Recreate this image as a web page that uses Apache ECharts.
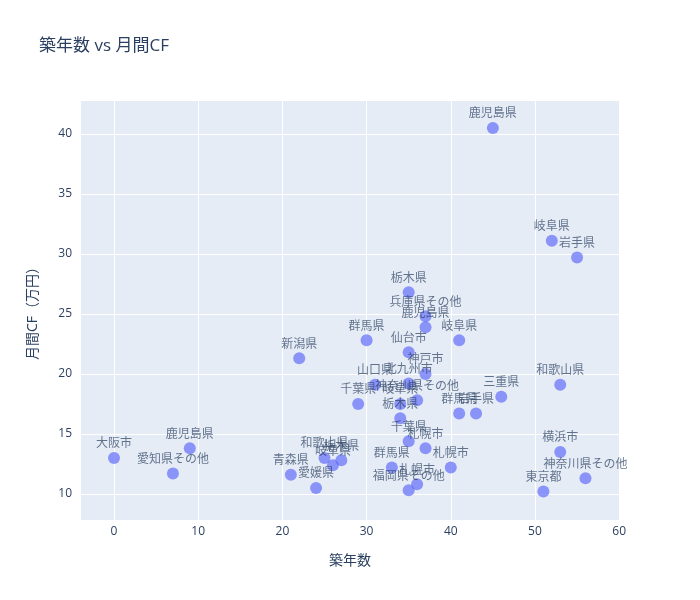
<!DOCTYPE html>
<html>
<head>
<meta charset="utf-8">
<script src="https://cdn.jsdelivr.net/npm/echarts@6/dist/echarts.min.js"></script>
<style>
  html, body { margin: 0; padding: 0; background: #fff; }
  #chart { width: 700px; height: 600px; }
</style>
</head>
<body>
<div id="chart"></div>
<script>
  // 物件名（ラベル）
  var names = [
    '大阪市', '愛知県その他', '鹿児島県', '青森県', '新潟県', '愛媛県', '和歌山県', '岐阜県',
    '栃木県', '千葉県', '群馬県', '山口県', '群馬県', '栃木県', '岐阜県', '栃木県',
    '仙台市', '北九州市', '千葉県', '福岡県その他', '札幌市', '神奈川県その他', '兵庫県その他', '鹿児島県',
    '神戸市', '札幌市', '札幌市', '岐阜県', '群馬県', '岩手県', '鹿児島県', '三重県',
    '東京都', '岐阜県', '和歌山県', '横浜市', '岩手県', '神奈川県その他'
  ]
  // 築年数
  var ages = [
    0, 7, 9, 21, 22, 24, 25, 26,
    27, 29, 30, 31, 33, 34, 34, 35,
    35, 35, 35, 35, 36, 36, 37, 37,
    37, 37, 40, 41, 41, 43, 45, 46,
    51, 52, 53, 53, 55, 56
  ]
  // 月間CF（万円）
  var cashflow = [
    13.0, 11.7, 13.8, 11.6, 21.3, 10.5, 13.0, 12.4,
    12.8, 17.5, 22.8, 19.1, 12.2, 16.3, 17.5, 26.8,
    21.8, 19.2, 14.4, 10.3, 10.8, 17.8, 24.8, 23.9,
    20.0, 13.8, 12.2, 22.8, 16.7, 16.7, 40.5, 18.1,
    10.2, 31.1, 19.1, 13.5, 29.7, 11.3
  ]

  var font = '"Open Sans", "Noto Sans CJK JP", sans-serif'
  var textColor = '#2a3f5f'

  var points = names.map(function (n, i) {
    return { name: n, value: [ages[i], cashflow[i]] }
  })

  var chart = echarts.init(document.getElementById('chart'))
  chart.setOption({
    backgroundColor: '#fff',
    animation: false,
    textStyle: { fontFamily: font },
    title: {
      text: '築年数 vs 月間CF',
      left: 34,
      top: 33,
      textStyle: { fontFamily: font, fontSize: 17, fontWeight: 'normal', color: textColor }
    },
    grid: {
      left: 80,
      right: 80,
      top: 100,
      bottom: 80,
      show: true,
      backgroundColor: '#E5ECF6',
      borderWidth: 0
    },
    xAxis: {
      type: 'value',
      min: -4.04,
      max: 60.1,
      minInterval: 10,
      maxInterval: 10,
      name: '築年数',
      nameLocation: 'middle',
      nameGap: 34,
      nameTextStyle: { fontFamily: font, fontSize: 14, color: textColor },
      axisLine: { show: false },
      axisTick: { show: false },
      axisLabel: {
        showMinLabel: false,
        showMaxLabel: false,
        color: textColor,
        fontSize: 12,
        margin: 6,
        fontFamily: font
      },
      splitLine: { lineStyle: { color: '#fff', width: 1 } }
    },
    yAxis: {
      type: 'value',
      min: 7.83,
      max: 42.83,
      minInterval: 5,
      maxInterval: 5,
      splitNumber: 7,
      name: '月間CF（万円）',
      nameLocation: 'middle',
      nameGap: 40,
      nameTextStyle: { fontFamily: font, fontSize: 14, color: textColor },
      axisLine: { show: false },
      axisTick: { show: false },
      axisLabel: {
        showMinLabel: false,
        showMaxLabel: false,
        color: textColor,
        fontSize: 12,
        margin: 8,
        fontFamily: font
      },
      splitLine: { lineStyle: { color: '#fff', width: 1 } }
    },
    series: [{
      type: 'scatter',
      data: points,
      symbolSize: 12,
      itemStyle: { color: '#636efa', opacity: 0.7 },
      label: {
        show: true,
        position: 'top',
        distance: 2,
        formatter: '{b}',
        color: textColor,
        fontSize: 12,
        fontFamily: font
      },
      labelLayout: { hideOverlap: false }
    }]
  })
</script>
</body>
</html>
